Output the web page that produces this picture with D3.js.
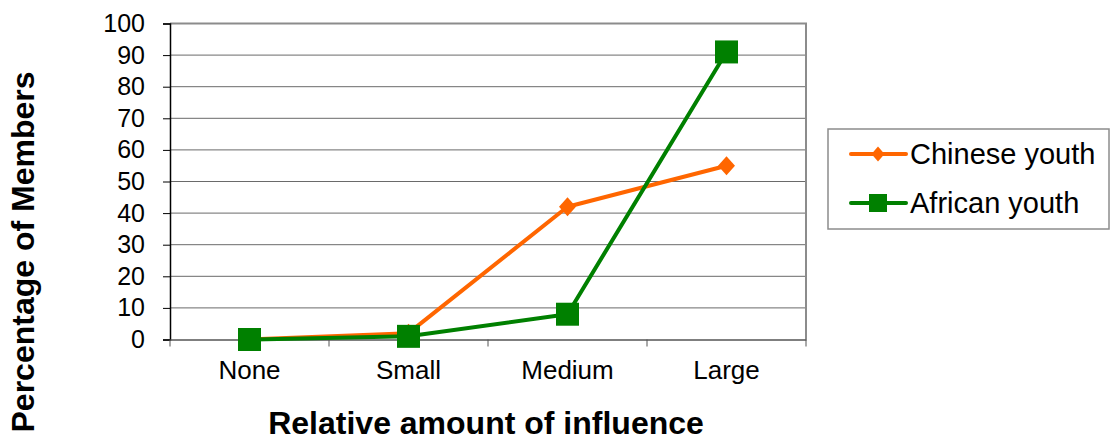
<!DOCTYPE html>
<html>
<head>
<meta charset="utf-8">
<script src="https://cdn.jsdelivr.net/npm/d3@7"></script>
<style>
  body { margin: 0; background: #fff; }
  text { font-family: "Liberation Sans", Arial, sans-serif; fill: #000; }
</style>
</head>
<body>
<svg id="chart" width="1110" height="441"></svg>
<script>
const categories = ['None', 'Small', 'Medium', 'Large'];
const chineseYouth = [0, 2, 42, 55];
const africanYouth = [0, 1, 8, 91];
const yTicks = [0, 10, 20, 30, 40, 50, 60, 70, 80, 90, 100];

const series = [
  {name: 'Chinese youth', values: chineseYouth, color: '#ff6600', marker: 'diamond'},
  {name: 'African youth', values: africanYouth, color: '#008000', marker: 'square'}
];

const plot = {left: 170, top: 23.5, right: 806, bottom: 339.5};
const fontFamily = '"Liberation Sans", Arial, sans-serif';

function translate(x, y) {
  return `translate(${x}, ${y})`;
}

// markers: square of side s, diamond with half-width w / half-height h
function markerPath(type, size) {
  if (type === 'square') {
    const r = size / 2;
    return `M${-r},${-r}H${r}V${r}H${-r}Z`;
  }
  const w = size / 2, h = size / 2 + 1;
  return `M0,${-h}L${w},0L0,${h}L${-w},0Z`;
}

const svg = d3.select('#chart');

const xScale = d3.scaleBand().domain(categories).range([plot.left, plot.right]);
const yScale = d3.scaleLinear().domain([0, 100]).range([plot.bottom, plot.top]);

// gridlines
svg.append('g')
  .selectAll('line')
  .data(yTicks.filter(t => t > 0))
  .enter().append('line')
    .attr('x1', plot.left).attr('x2', plot.right)
    .attr('y1', d => yScale(d)).attr('y2', d => yScale(d))
    .attr('stroke', '#6a6a6a')
    .attr('stroke-width', 1);

// plot border (top/right)
svg.append('path')
  .attr('d', `M${plot.left},${plot.top}H${plot.right}V${plot.bottom}`)
  .attr('fill', 'none')
  .attr('stroke', '#8c8c8c')
  .attr('stroke-width', 2);

// y axis
const yAxis = svg.append('g')
  .attr('transform', translate(plot.left, 0))
  .call(d3.axisLeft(yScale).tickValues(yTicks).tickSize(7).tickPadding(18));
yAxis.select('.domain').attr('stroke', '#000').attr('stroke-width', 1.5);
yAxis.selectAll('.tick line').attr('stroke', '#000');
yAxis.selectAll('.tick text').attr('font-size', 25).attr('font-family', fontFamily).attr('fill', '#000');

// x axis
const xAxis = svg.append('g')
  .attr('transform', translate(0, plot.bottom))
  .call(d3.axisBottom(xScale).tickSize(0).tickPadding(21));
xAxis.select('.domain').attr('stroke', '#555').attr('stroke-width', 1.5);
xAxis.selectAll('.tick text').attr('font-size', 26).attr('font-family', fontFamily).attr('fill', '#000');
svg.append('g')
  .selectAll('line')
  .data(categories.concat(['end']))
  .enter().append('line')
    .attr('x1', (d, i) => i < categories.length ? xScale(d) : plot.right)
    .attr('x2', (d, i) => i < categories.length ? xScale(d) : plot.right)
    .attr('y1', plot.bottom).attr('y2', plot.bottom + 7)
    .attr('stroke', '#555').attr('stroke-width', 1);

const cx = d => xScale(d) + xScale.bandwidth() / 2;

const line = d3.line()
  .x((v, i) => cx(categories[i]))
  .y(v => yScale(v));

series.forEach(s => {
  const g = svg.append('g');
  g.append('path')
    .attr('d', line(s.values))
    .attr('fill', 'none')
    .attr('stroke', s.color)
    .attr('stroke-width', 4)
    .attr('stroke-linejoin', 'round');
  g.selectAll('path.mark')
    .data(s.values)
    .enter().append('path')
      .attr('class', 'mark')
      .attr('transform', (v, i) => translate(cx(categories[i]), yScale(v)))
      .attr('d', markerPath(s.marker, s.marker === 'square' ? 23 : 17))
      .attr('fill', s.color);
});

// axis titles
svg.append('text')
  .attr('x', 486).attr('y', 434)
  .attr('text-anchor', 'middle')
  .attr('font-size', 32).attr('font-weight', 'bold')
  .text('Relative amount of influence');

svg.append('text')
  .attr('transform', translate(34, 252) + ' rotate(-90)')
  .attr('text-anchor', 'middle')
  .attr('font-size', 32).attr('font-weight', 'bold')
  .text('Percentage of Members');

// legend
const legend = svg.append('g').attr('transform', translate(828, 129));
legend.append('rect')
  .attr('x', 0).attr('y', 0).attr('width', 281).attr('height', 100)
  .attr('fill', '#fff').attr('stroke', '#8c8c8c').attr('stroke-width', 1.5);
series.forEach((s, i) => {
  const y = 25 + i * 49;
  legend.append('line')
    .attr('x1', 23).attr('x2', 78).attr('y1', y).attr('y2', y)
    .attr('stroke', s.color).attr('stroke-width', 4).attr('stroke-linecap', 'round');
  legend.append('path')
    .attr('transform', translate(50, y))
    .attr('d', markerPath(s.marker, s.marker === 'square' ? 18 : 13))
    .attr('fill', s.color);
  legend.append('text')
    .attr('x', 82).attr('y', y + 10)
    .attr('font-size', 29)
    .text(s.name);
});
</script>
</body>
</html>
